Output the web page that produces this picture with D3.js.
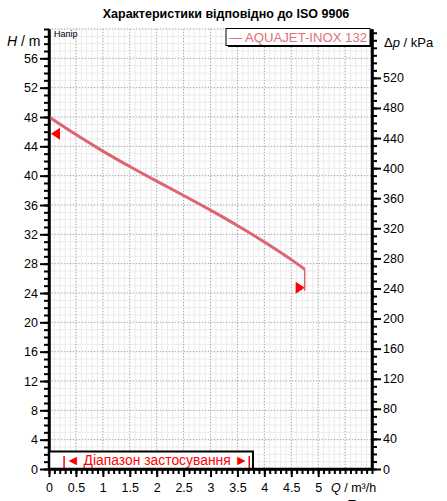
<!DOCTYPE html>
<html>
<head>
<meta charset="utf-8">
<script src="https://cdn.jsdelivr.net/npm/d3@7"></script>
<style>
body { margin:0; background:#fff; }
svg text { font-family: "Liberation Sans", Arial, sans-serif; }
</style>
</head>
<body>
<div id="graph"></div>
<script>
// curve data
var flowQ = [0, 0.5, 1, 1.5, 2, 2.5, 3, 3.5, 4, 4.5, 4.75];
var headH = [48, 45.6, 43.35, 41.25, 39.25, 37.3, 35.3, 33.2, 30.95, 28.55, 27.25];
var endDrop = [27.25, 24.3];       // vertical end of curve at last Q
var markerLeft = [0, 45.7];        // duty arrow at Q=0
var markerRight = [4.75, 24.7];
var rangeQ = [0.28, 3.72];         // Діапазон застосування
var xTicks = [0, 0.5, 1, 1.5, 2, 2.5, 3, 3.5, 4, 4.5, 5];
var yTicks = [0, 4, 8, 12, 16, 20, 24, 28, 32, 36, 40, 44, 48, 52, 56];
var pTicks = [0, 40, 80, 120, 160, 200, 240, 280, 320, 360, 400, 440, 480, 520];

var width = 447, height = 501;
var mLeft = 49, mRight = 372, mTop = 29, mBottom = 469;

var svg = d3.select("#graph").append("svg")
  .attr("width", width).attr("height", height);

var x = d3.scaleLinear().domain([0, 6]).range([mLeft, mRight]);
var y = d3.scaleLinear().domain([0, 60]).range([mBottom, mTop]);
var yP = d3.scaleLinear().domain([0, 585]).range([mBottom, mTop]);

// minor grid
svg.append("g").selectAll("line")
  .data(d3.range(0, 61, 1).map(function(d){ return d / 10; }))
  .enter().append("line")
  .attr("x1", function(d){ return x(d); }).attr("x2", function(d){ return x(d); })
  .attr("y1", mTop).attr("y2", mBottom)
  .style("stroke", "#ebebeb").style("stroke-width", 1);
svg.append("g").selectAll("line")
  .data(d3.range(0, 61, 1))
  .enter().append("line")
  .attr("x1", mLeft).attr("x2", mRight)
  .attr("y1", function(d){ return y(d); }).attr("y2", function(d){ return y(d); })
  .style("stroke", "#ebebeb").style("stroke-width", 1);

// major dotted grid
svg.append("g").selectAll("line")
  .data(xTicks.concat([5.5, 6]))
  .enter().append("line")
  .attr("x1", function(d){ return x(d); }).attr("x2", function(d){ return x(d); })
  .attr("y1", mTop).attr("y2", mBottom)
  .style("stroke", "#a8a8a8").style("stroke-dasharray", "1,2");
svg.append("g").selectAll("line")
  .data(yTicks.concat([60]))
  .enter().append("line")
  .attr("x1", mLeft).attr("x2", mRight)
  .attr("y1", function(d){ return y(d); }).attr("y2", function(d){ return y(d); })
  .style("stroke", "#a8a8a8").style("stroke-dasharray", "1,2");

// axes
function styleAxis(g) {
  g.select(".domain").style("stroke", "#000").style("stroke-width", 2.5);
  g.selectAll(".tick line").style("stroke", "#000").style("stroke-width", 2);
  g.selectAll("text").style("font-size", "12.5px").style("fill", "#000");
}
var yMinor = svg.append("g").attr("transform", "translate(" + mLeft + ",0)")
  .call(d3.axisLeft(y).tickValues(d3.range(0, 61, 1)).tickSize(5).tickSizeOuter(0).tickFormat(""));
styleAxis(yMinor);
var yAxis = svg.append("g").attr("transform", "translate(" + mLeft + ",0)")
  .call(d3.axisLeft(y).tickValues(yTicks).tickSize(9).tickSizeOuter(0).tickPadding(2));
styleAxis(yAxis);
yAxis.select(".domain").remove();

var pMinor = svg.append("g").attr("transform", "translate(" + mRight + ",0)")
  .call(d3.axisRight(yP).tickValues(d3.range(0, 581, 10)).tickSize(5).tickSizeOuter(0).tickFormat(""));
styleAxis(pMinor);
var pAxis = svg.append("g").attr("transform", "translate(" + mRight + ",0)")
  .call(d3.axisRight(yP).tickValues(pTicks).tickSize(9).tickSizeOuter(0).tickPadding(2));
styleAxis(pAxis);
pAxis.select(".domain").remove();

var xMinor = svg.append("g").attr("transform", "translate(0," + mBottom + ")")
  .call(d3.axisBottom(x).tickValues(d3.range(0, 61, 1).map(function(d){ return d / 10; }))
    .tickSize(5).tickSizeOuter(0).tickFormat(""));
styleAxis(xMinor);
var xAxis = svg.append("g").attr("transform", "translate(0," + mBottom + ")")
  .call(d3.axisBottom(x).tickValues(xTicks).tickSize(8).tickSizeOuter(0).tickPadding(6)
    .tickFormat(function(d){ return d; }));
styleAxis(xAxis);
xAxis.select(".domain").remove();

// axis titles
svg.append("text").attr("x", 7).attr("y", 46).style("font-size", "14px")
  .html('<tspan font-style="italic">H</tspan> / m');
svg.append("text").attr("x", 384).attr("y", 47).style("font-size", "13px")
  .html('Δ<tspan font-style="italic">p</tspan> / kPa');
svg.append("text").attr("x", 331).attr("y", 492).style("font-size", "12.5px")
  .html('<tspan font-style="italic">Q</tspan> / m³/h');
svg.append("text").attr("x", 347).attr("y", 512).style("font-size", "17px").text("P");
svg.append("text").attr("x", 54).attr("y", 37).style("font-size", "9px").text("Напір");

// title
svg.append("text").attr("x", 226).attr("y", 18).attr("text-anchor", "middle")
  .style("font-size", "12.5px").style("font-weight", "bold")
  .text("Характеристики відповідно до ISO 9906");

// pump curve
var line = d3.line().x(function(d){ return x(d[0]); }).y(function(d){ return y(d[1]); })
  .curve(d3.curveMonotoneX);
var pts = flowQ.map(function(q, i){ return [q, headH[i]]; });
svg.append("path").datum(pts).attr("d", line)
  .style("fill", "none").style("stroke", "#dd6470").style("stroke-width", 3);
svg.append("line")
  .attr("x1", x(flowQ[flowQ.length - 1])).attr("x2", x(flowQ[flowQ.length - 1]))
  .attr("y1", y(endDrop[0])).attr("y2", y(endDrop[1]))
  .style("stroke", "#dd6470").style("stroke-width", 1.5);

// red arrows
function tri(px, py, dir) {
  var w = 9, h = 6;
  return "M" + px + "," + py + "L" + (px + dir * w) + "," + (py - h) + "L" + (px + dir * w) + "," + (py + h) + "Z";
}
svg.append("path").attr("d", tri(x(markerLeft[0]) + 2, y(markerLeft[1]), 1)).style("fill", "#f00");
svg.append("path").attr("d", tri(x(markerRight[0]), y(markerRight[1]), -1)).style("fill", "#f00");

// legend
svg.append("rect").attr("x", 228).attr("y", 30).attr("width", 144).attr("height", 17)
  .style("fill", "#000");
svg.append("rect").attr("x", 226).attr("y", 28.5).attr("width", 144).attr("height", 17)
  .style("fill", "#fff").style("stroke", "#000").style("stroke-width", 1);
svg.append("text").attr("x", 229).attr("y", 42).style("font-size", "13.5px")
  .attr("textLength", 138).attr("lengthAdjust", "spacingAndGlyphs")
  .style("fill", "#e07078").text("— AQUAJET-INOX 132");

// range box
var rx1 = x(0), rx2 = 253;
svg.append("rect").attr("x", rx1).attr("y", 451.5).attr("width", rx2 - rx1).attr("height", mBottom - 451.5)
  .style("fill", "#fff").style("stroke", "#000").style("stroke-width", 2);
[rangeQ[0], rangeQ[1]].forEach(function(q){
  svg.append("line").attr("x1", x(q)).attr("x2", x(q)).attr("y1", 456).attr("y2", 468)
    .style("stroke", "#f00").style("stroke-width", 1.5);
});
svg.append("text").attr("x", x(rangeQ[0]) + 2).attr("y", 465)
  .style("font-size", "14px").style("fill", "#f00")
  .attr("textLength", x(rangeQ[1]) - x(rangeQ[0]) - 3).attr("lengthAdjust", "spacingAndGlyphs")
  .text("◄ Діапазон застосування ►");

// axis lines on top
svg.append("line").attr("x1", mLeft).attr("x2", mLeft).attr("y1", mTop).attr("y2", mBottom)
  .style("stroke", "#000").style("stroke-width", 2.5);
svg.append("line").attr("x1", mRight).attr("x2", mRight).attr("y1", mTop).attr("y2", mBottom)
  .style("stroke", "#000").style("stroke-width", 2.5);
svg.append("line").attr("x1", mLeft - 1).attr("x2", mRight + 1).attr("y1", mBottom).attr("y2", mBottom)
  .style("stroke", "#000").style("stroke-width", 2.5);
</script>
</body>
</html>
